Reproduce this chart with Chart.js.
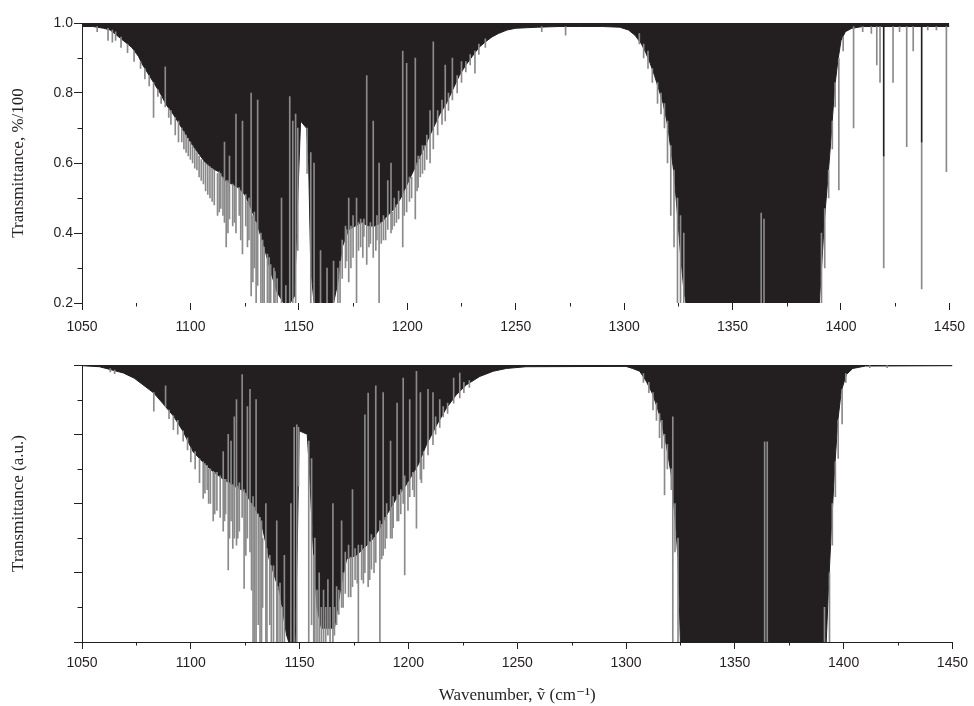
<!DOCTYPE html>
<html>
<head>
<meta charset="utf-8">
<script src="https://cdn.jsdelivr.net/npm/chart.js@4.4.1/dist/chart.umd.min.js"></script>
<style>
  html, body { margin: 0; padding: 0; background: #fff; }
  #wrap { position: relative; width: 974px; height: 706px; }
  canvas { position: absolute; left: 0; }
  #topChart { top: 0; }
  #botChart { top: 335px; }
</style>
</head>
<body>
<div id="wrap">
  <canvas id="topChart" width="974" height="335"></canvas>
  <canvas id="botChart" width="974" height="371"></canvas>
</div>
<script>
// ---- upper panel (measured) ----
// lower edge of the dense (black) absorption band
var topEnvWn = [1050, 1055, 1060, 1063, 1066, 1070, 1073, 1076, 1078, 1080, 1083, 1086, 1089, 1092, 1095, 1098,
  1101, 1104, 1107, 1110, 1113, 1116, 1119, 1122, 1125, 1128, 1131, 1134, 1137, 1140, 1143, 1146, 1148,
  1149.5, 1150.8, 1153.5, 1154.5, 1155.5, 1157, 1166, 1168, 1170, 1173, 1176, 1179, 1182, 1185, 1188, 1191,
  1194, 1197, 1200, 1203, 1206, 1209, 1212, 1215, 1218, 1221, 1224, 1227, 1230, 1233, 1236, 1239, 1242,
  1246, 1250, 1260, 1270, 1280, 1290, 1298, 1302, 1305, 1308, 1310, 1312, 1314, 1316, 1318, 1320, 1321.5,
  1323, 1324.5, 1326, 1327.5, 1328.5, 1390, 1391.5, 1392.5, 1394, 1395.5, 1397, 1398.5, 1400, 1402, 1405,
  1410, 1450];
var topEnvT = [0.99, 0.99, 0.985, 0.98, 0.965, 0.945, 0.93, 0.905, 0.88, 0.86, 0.83, 0.80, 0.765, 0.74, 0.71, 0.68,
  0.65, 0.625, 0.60, 0.585, 0.575, 0.55, 0.54, 0.53, 0.51, 0.47, 0.42, 0.36, 0.29, 0.23, 0.2, 0.2, 0.22,
  0.5, 0.72, 0.70, 0.60, 0.3, 0.2, 0.2, 0.26, 0.36, 0.41, 0.42, 0.43, 0.42, 0.42, 0.43, 0.45,
  0.47, 0.50, 0.54, 0.58, 0.62, 0.66, 0.70, 0.74, 0.77, 0.81, 0.85, 0.88, 0.905, 0.93, 0.946, 0.96, 0.97,
  0.98, 0.985, 0.988, 0.99, 0.99, 0.99, 0.988, 0.98, 0.965, 0.94, 0.915, 0.885, 0.85, 0.81, 0.77, 0.71, 0.64,
  0.57, 0.46, 0.34, 0.24, 0.2, 0.2, 0.35, 0.45, 0.56, 0.68, 0.81, 0.89, 0.95, 0.975, 0.985,
  0.99, 0.99];

// single lines (grey sticks): position, top, bottom
var topLineWn = [1057, 1062, 1064, 1065.5, 1068, 1071, 1074, 1077, 1079, 1081, 1083, 1085, 1086.5, 1088.4, 1090, 1091,
  1093, 1094.5, 1096, 1097, 1098, 1099, 1100, 1101, 1102, 1103, 1104, 1105, 1106, 1107, 1108, 1109,
  1110, 1111, 1112.5, 1113.3, 1114, 1115, 1115.7, 1116.5, 1117.3, 1118, 1119.5, 1120.3, 1121, 1122.5, 1123.2, 1124,
  1125.5, 1126.3, 1127, 1128, 1128.8, 1129.5, 1130.3, 1131, 1132.5, 1133.3, 1134, 1135.5, 1136.3, 1137, 1138.5, 1139,
  1140, 1142, 1144, 1145.8, 1147.2, 1148.5, 1149.5, 1153.8, 1155.5, 1157, 1160, 1163, 1166, 1168, 1169, 1170,
  1171.5, 1172, 1173, 1174, 1175, 1176.6, 1177.5, 1178.5, 1179.5, 1180, 1181.3, 1182.3, 1183, 1184.3, 1185.5, 1186,
  1187, 1188, 1189, 1190, 1191, 1192.5, 1193, 1194, 1195, 1196, 1197.9, 1198.6, 1199.7, 1201, 1202, 1203.7,
  1204.5, 1205, 1206, 1207, 1208, 1209, 1210.5, 1212, 1214, 1216, 1217.5, 1219, 1220.8, 1223, 1225, 1227,
  1229, 1231.2, 1233, 1236, 1262, 1273,
  1307, 1309, 1311, 1313, 1315.4, 1317, 1318.6, 1320, 1321.5, 1323, 1324.6, 1326, 1327.5, 1363.2, 1364.5,
  1391, 1392.5, 1394.3, 1396, 1397.3, 1399, 1401, 1405.8, 1410, 1414, 1416.5, 1418, 1419.7, 1424, 1427,
  1430.3, 1433.3, 1437.2, 1440, 1444, 1448.6];
var topLineHi = [0.99, 0.985, 0.98, 0.975, 0.96, 0.94, 0.92, 0.89, 0.87, 0.85, 0.83, 0.81, 0.79, 0.875, 0.755, 0.75,
  0.73, 0.72, 0.70, 0.69, 0.68, 0.67, 0.66, 0.65, 0.64, 0.63, 0.62, 0.61, 0.605, 0.60, 0.595, 0.59,
  0.585, 0.58, 0.57, 0.575, 0.57, 0.56, 0.66, 0.55, 0.55, 0.62, 0.54, 0.535, 0.74, 0.53, 0.52, 0.72,
  0.51, 0.49, 0.50, 0.80, 0.45, 0.46, 0.43, 0.78, 0.40, 0.38, 0.36, 0.34, 0.33, 0.31, 0.30, 0.29,
  0.27, 0.5, 0.25, 0.79, 0.72, 0.74, 0.70, 0.70, 0.63, 0.60, 0.35, 0.30, 0.32, 0.30, 0.32, 0.38,
  0.42, 0.41, 0.50, 0.42, 0.45, 0.50, 0.43, 0.44, 0.43, 0.44, 0.85, 0.42, 0.43, 0.72, 0.42, 0.45,
  0.60, 0.43, 0.45, 0.44, 0.55, 0.60, 0.46, 0.50, 0.48, 0.52, 0.92, 0.52, 0.885, 0.56, 0.56, 0.90,
  0.60, 0.62, 0.62, 0.65, 0.65, 0.68, 0.75, 0.946, 0.75, 0.78, 0.88, 0.80, 0.90, 0.85, 0.89, 0.89,
  0.91, 0.92, 0.94, 0.955, 0.99, 0.99,
  0.97, 0.94, 0.92, 0.87, 0.83, 0.80, 0.77, 0.72, 0.65, 0.58, 0.50, 0.45, 0.40, 0.457, 0.44,
  0.40, 0.47, 0.58, 0.72, 0.83, 0.90, 0.96, 0.99, 0.99, 0.99, 0.99, 0.99, 0.62, 0.99, 0.99,
  0.99, 0.99, 0.66, 0.99, 0.99, 0.99];
var topLineLo = [0.975, 0.95, 0.945, 0.95, 0.93, 0.915, 0.89, 0.87, 0.84, 0.82, 0.73, 0.79, 0.77, 0.76, 0.73, 0.71,
  0.68, 0.66, 0.66, 0.64, 0.63, 0.62, 0.61, 0.60, 0.585, 0.58, 0.56, 0.55, 0.54, 0.52, 0.51, 0.50,
  0.49, 0.48, 0.45, 0.46, 0.47, 0.45, 0.43, 0.36, 0.40, 0.44, 0.42, 0.43, 0.40, 0.45, 0.38, 0.34,
  0.42, 0.36, 0.38, 0.22, 0.26, 0.30, 0.2, 0.25, 0.2, 0.2, 0.2, 0.2, 0.2, 0.2, 0.2, 0.2,
  0.2, 0.2, 0.2, 0.2, 0.2, 0.2, 0.35, 0.57, 0.2, 0.2, 0.2, 0.2, 0.2, 0.2, 0.2, 0.27,
  0.30, 0.32, 0.26, 0.30, 0.33, 0.2, 0.35, 0.36, 0.33, 0.39, 0.31, 0.36, 0.37, 0.33, 0.35, 0.38,
  0.2, 0.37, 0.38, 0.38, 0.41, 0.40, 0.41, 0.42, 0.43, 0.44, 0.36, 0.45, 0.46, 0.49, 0.50, 0.44,
  0.52, 0.53, 0.56, 0.57, 0.58, 0.61, 0.60, 0.64, 0.68, 0.71, 0.72, 0.75, 0.78, 0.80, 0.83, 0.86,
  0.88, 0.857, 0.91, 0.93, 0.975, 0.965,
  0.94, 0.90, 0.87, 0.83, 0.77, 0.74, 0.70, 0.60, 0.45, 0.36, 0.2, 0.2, 0.2, 0.2, 0.2,
  0.2, 0.30, 0.50, 0.64, 0.76, 0.523, 0.92, 0.70, 0.975, 0.97, 0.88, 0.83, 0.30, 0.83, 0.975,
  0.647, 0.92, 0.24, 0.98, 0.98, 0.575];
// strong lines drawn darker near the baseline
var topDarkWn = [1419.7, 1437.2];
var topDarkHi = [0.99, 0.99];
var topDarkLo = [0.62, 0.66];

// ---- lower panel (calculated) ----
var botEnvWn = [1050, 1058, 1063, 1069, 1074, 1078, 1083, 1087, 1092, 1096.5, 1101, 1105.5, 1110, 1115, 1120, 1124.5,
  1129, 1132, 1136, 1141, 1144, 1145, 1148, 1149, 1149.8, 1153.5, 1154.5, 1156, 1158, 1160, 1166, 1169,
  1171.6, 1176, 1181, 1184, 1187, 1190, 1194.5, 1199, 1204.5, 1208.3, 1213, 1217.5, 1222, 1226.7, 1232.8,
  1239, 1245, 1254, 1300, 1303, 1306.3, 1309.3, 1312.4, 1315.4, 1318.5, 1320.8, 1322.8, 1323.9, 1325, 1392,
  1393, 1394.3, 1395.8, 1397.3, 1398.9, 1401.2, 1404.2, 1410, 1450];
var botEnvT = [0.998, 0.995, 0.987, 0.977, 0.962, 0.943, 0.919, 0.89, 0.853, 0.808, 0.75, 0.72, 0.693, 0.67, 0.65, 0.636,
  0.59, 0.558, 0.44, 0.34, 0.22, 0.2, 0.2, 0.5, 0.81, 0.80, 0.70, 0.5, 0.3, 0.24, 0.24, 0.36,
  0.44, 0.45, 0.48, 0.50, 0.53, 0.567, 0.615, 0.654, 0.712, 0.77, 0.827, 0.876, 0.914, 0.943, 0.967,
  0.982, 0.99, 0.995, 0.996, 0.99, 0.982, 0.953, 0.914, 0.856, 0.77, 0.683, 0.54, 0.44, 0.2, 0.2,
  0.35, 0.52, 0.693, 0.837, 0.924, 0.972, 0.99, 0.997, 0.998];

var botLineWn = [1063, 1065, 1083, 1088.4, 1090, 1092, 1094, 1096.5, 1098.5, 1100, 1102, 1104, 1105.7, 1106.5, 1107.5, 1108.2,
  1109, 1110.3, 1111, 1112, 1113.5, 1114.9, 1115.5, 1116, 1117.2, 1117.8, 1118.5, 1119.3, 1120, 1121, 1121.6, 1122.3,
  1123.6, 1124.5, 1125.3, 1126, 1127.2, 1127.9, 1128.6, 1129.3, 1130, 1131, 1131.8, 1132.5, 1133, 1134.5, 1135, 1136.3,
  1137, 1138, 1139.5, 1140, 1141, 1142, 1143, 1146, 1147.5, 1148.7, 1149.5, 1154.2, 1155.5, 1156.5, 1157, 1158,
  1159, 1160, 1161, 1162, 1163, 1164, 1165.3, 1166, 1167, 1168, 1169.3, 1170, 1171, 1172.5, 1173.5, 1174.3,
  1175.5, 1176.5, 1177, 1178.5, 1179.3, 1180, 1181.5, 1182.2, 1183, 1184.2, 1185, 1186.9, 1187.7, 1188.4, 1189.3, 1190,
  1191.8, 1192.5, 1193, 1194.8, 1195.5, 1196.5, 1197.6, 1198.3, 1199.8, 1200.6, 1202, 1202.7, 1203.7, 1205.5, 1206, 1207,
  1209, 1211.3, 1212.5, 1214.4, 1216, 1218, 1220.8, 1223.6, 1225.5, 1228,
  1308, 1310.5, 1312.4, 1314, 1315.4, 1316.5, 1317.7, 1319, 1320.8, 1321.5, 1322.5, 1323.9, 1363.7, 1364.9,
  1391.2, 1393.5, 1394.8, 1396.2, 1397.5, 1399.3, 1401, 1412, 1420];
var botLineHi = [0.99, 0.985, 0.92, 0.94, 0.87, 0.853, 0.84, 0.81, 0.79, 0.76, 0.75, 0.73, 0.72, 0.715, 0.71, 0.70,
  0.70, 0.693, 0.69, 0.69, 0.68, 0.75, 0.67, 0.67, 0.80, 0.66, 0.78, 0.655, 0.85, 0.90, 0.65, 0.66,
  0.972, 0.64, 0.63, 0.88, 0.93, 0.60, 0.62, 0.59, 0.90, 0.57, 0.56, 0.55, 0.50, 0.60, 0.47, 0.45,
  0.42, 0.42, 0.55, 0.36, 0.37, 0.30, 0.45, 0.60, 0.82, 0.827, 0.82, 0.78, 0.73, 0.45, 0.50, 0.35,
  0.40, 0.30, 0.35, 0.30, 0.38, 0.30, 0.60, 0.30, 0.36, 0.35, 0.55, 0.40, 0.46, 0.48, 0.445, 0.64,
  0.47, 0.45, 0.48, 0.48, 0.47, 0.856, 0.919, 0.49, 0.51, 0.50, 0.94, 0.55, 0.54, 0.92, 0.56, 0.60,
  0.78, 0.59, 0.62, 0.89, 0.625, 0.64, 0.962, 0.68, 0.66, 0.90, 0.69, 0.69, 0.982, 0.92, 0.73, 0.75,
  0.93, 0.92, 0.85, 0.90, 0.88, 0.89, 0.962, 0.977, 0.95, 0.955,
  0.975, 0.95, 0.92, 0.89, 0.86, 0.84, 0.80, 0.77, 0.70, 0.85, 0.60, 0.50, 0.778, 0.778,
  0.30, 0.40, 0.60, 0.72, 0.84, 0.93, 0.975, 0.998, 0.998];
var botLineLo = [0.98, 0.975, 0.867, 0.88, 0.845, 0.813, 0.80, 0.78, 0.755, 0.72, 0.70, 0.66, 0.615, 0.63, 0.64, 0.60,
  0.60, 0.55, 0.57, 0.58, 0.56, 0.52, 0.55, 0.57, 0.408, 0.50, 0.55, 0.47, 0.50, 0.48, 0.50, 0.52,
  0.56, 0.355, 0.45, 0.50, 0.46, 0.35, 0.2, 0.2, 0.2, 0.25, 0.2, 0.2, 0.30, 0.2, 0.2, 0.25,
  0.2, 0.2, 0.2, 0.2, 0.2, 0.2, 0.2, 0.2, 0.2, 0.2, 0.65, 0.2, 0.25, 0.2, 0.2, 0.2,
  0.2, 0.2, 0.2, 0.2, 0.22, 0.2, 0.2, 0.22, 0.25, 0.28, 0.30, 0.30, 0.34, 0.33, 0.33, 0.36,
  0.38, 0.37, 0.2, 0.38, 0.37, 0.40, 0.36, 0.38, 0.41, 0.40, 0.43, 0.2, 0.44, 0.45, 0.47, 0.50,
  0.50, 0.50, 0.53, 0.55, 0.55, 0.57, 0.60, 0.394, 0.58, 0.62, 0.64, 0.62, 0.529, 0.67, 0.66, 0.70,
  0.74, 0.77, 0.80, 0.82, 0.85, 0.86, 0.89, 0.905, 0.92, 0.935,
  0.95, 0.92, 0.87, 0.84, 0.79, 0.76, 0.625, 0.70, 0.64, 0.2, 0.46, 0.2, 0.2, 0.2,
  0.2, 0.2, 0.48, 0.62, 0.73, 0.83, 0.95, 0.992, 0.992];

// axes
var xMajor = [1050, 1100, 1150, 1200, 1250, 1300, 1350, 1400, 1450];
var xMinor = [1075, 1125, 1175, 1225, 1275, 1325, 1375, 1425];
var yMinor = [0.9, 0.7, 0.5, 0.3];

var ink = '#231f20';
var grey = '#8a8a8a';

// short minor ticks, placed through the chart's own scales
var minorTicks = {
  id: 'minorTicks',
  afterDraw: function (chart, args, opts) {
    var ctx = chart.ctx;
    var a = chart.chartArea;
    var xs = chart.scales.x, ys = chart.scales.y;
    ctx.save();
    ctx.strokeStyle = ink;
    ctx.lineWidth = 1;
    ctx.beginPath();
    xMinor.forEach(function (v) {
      var px = Math.round(xs.getPixelForValue(v)) + 0.5;
      ctx.moveTo(px, a.bottom);
      ctx.lineTo(px, a.bottom + opts.xLen);
    });
    yMinor.forEach(function (v) {
      var py = Math.round(ys.getPixelForValue(v)) + 0.5;
      ctx.moveTo(a.left, py);
      ctx.lineTo(a.left - opts.yLen, py);
    });
    ctx.stroke();
    ctx.restore();
  }
};

function pairs(wn, t) {
  return wn.map(function (w, i) { return { x: w, y: t[i] }; });
}
function sticks(wn, hi, lo) {
  return wn.map(function (w, i) { return { x: w, y: [lo[i], hi[i]] }; });
}

function makePanel(id, env, lines, dark, o) {
  var ctx = document.getElementById(id).getContext('2d');
  var datasets = [
    {
      type: 'line',
      data: env,
      borderColor: ink,
      borderWidth: 1,
      backgroundColor: ink,
      fill: 'end',
      pointRadius: 0,
      tension: 0,
      order: 3
    },
    {
      type: 'bar',
      data: lines,
      backgroundColor: grey,
      borderWidth: 0,
      barThickness: 1,
      grouped: false,
      order: 2
    }
  ];
  if (dark) {
    datasets.push({
      type: 'bar',
      data: dark,
      backgroundColor: ink,
      borderWidth: 0,
      barThickness: 1,
      grouped: false,
      order: 1
    });
  }
  return new Chart(ctx, {
    type: 'line',
    data: { datasets: datasets },
    plugins: [minorTicks],
    options: {
      responsive: false,
      devicePixelRatio: 1,
      animation: false,
      events: [],
      layout: { padding: { top: o.padTop, right: 21, left: 0, bottom: 0 } },
      plugins: {
        legend: { display: false },
        tooltip: { enabled: false },
        minorTicks: { xLen: 3.5, yLen: 4.5 }
      },
      scales: {
        x: {
          type: 'linear',
          min: 1050,
          max: 1450,
          offset: false,
          afterBuildTicks: function (s) { s.ticks = xMajor.map(function (v) { return { value: v }; }); },
          afterFit: function (s) { s.height = o.xHeight; },
          border: { display: o.xBorder, color: ink, width: 1 },
          grid: { drawOnChartArea: false, offset: false, tickLength: 7, tickColor: ink },
          ticks: {
            color: ink,
            padding: o.xPad,
            maxRotation: 0,
            autoSkip: false,
            font: { family: 'Liberation Sans, Arial, sans-serif', size: 14 },
            callback: function (v) { return String(v); }
          },
          title: o.xTitle ? {
            display: true,
            text: o.xTitle,
            color: ink,
            padding: { top: 0, bottom: 0 },
            font: { family: 'Liberation Serif, DejaVu Serif, serif', size: 17 }
          } : { display: false }
        },
        y: {
          min: 0.2,
          max: 1.0,
          afterFit: function (s) { s.width = 82; },
          border: { display: true, color: ink, width: 1 },
          grid: { drawOnChartArea: false, tickLength: 8, tickColor: ink },
          ticks: {
            stepSize: 0.2,
            color: ink,
            padding: 1,
            font: { family: 'Liberation Sans, Arial, sans-serif', size: 14 },
            callback: function (v) { return o.yLabels ? v.toFixed(1) : ''; }
          },
          title: {
            display: true,
            text: o.yTitle,
            color: ink,
            padding: { top: 8, bottom: 0 },
            font: { family: 'Liberation Serif, DejaVu Serif, serif', size: 17 }
          }
        }
      }
    }
  });
}

makePanel('topChart',
  pairs(topEnvWn, topEnvT),
  sticks(topLineWn, topLineHi, topLineLo),
  sticks(topDarkWn, topDarkHi, topDarkLo),
  { padTop: 23, xHeight: 32, xBorder: false, xPad: 9, yLabels: true, yTitle: 'Transmittance, %/100' });

makePanel('botChart',
  pairs(botEnvWn, botEnvT),
  sticks(botLineWn, botLineHi, botLineLo),
  null,
  { padTop: 30, xHeight: 64, xBorder: true, xPad: 6, yLabels: false, yTitle: 'Transmittance (a.u.)',
    xTitle: 'Wavenumber, \u1E7D (cm\u207B\u00B9)' });
</script>
</body>
</html>
